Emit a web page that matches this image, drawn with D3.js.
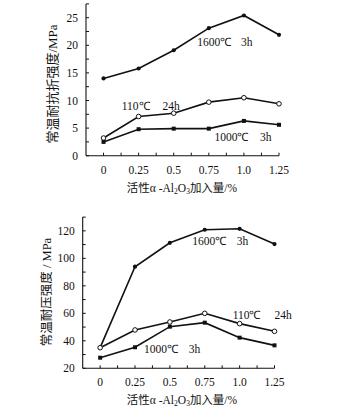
<!DOCTYPE html>
<html><head><meta charset="utf-8">
<script src="https://cdn.jsdelivr.net/npm/d3@7"></script>
<style>
body{margin:0;background:#fff;}
svg{display:block;}
text{fill:#111;}
</style></head>
<body><svg id="c" width="349" height="411"></svg>
<script>
const xValues = [0, 0.25, 0.5, 0.75, 1.0, 1.25];
const xTickLabels = ["0", "0.25", "0.5", "0.75", "1.0", "1.25"];

// Top chart: flexural strength (MPa)
const flex1600 = [14.0, 15.8, 19.1, 23.1, 25.4, 21.9];
const flex110  = [3.2, 7.1, 7.7, 9.7, 10.5, 9.4];
const flex1000 = [2.5, 4.8, 4.9, 4.9, 6.3, 5.6];
const flexTicks = [0, 5, 10, 15, 20, 25];

// Bottom chart: compressive strength (MPa)
const comp1600 = [35, 93.9, 111.3, 120.8, 121.5, 110.4];
const comp110  = [35, 47.9, 53.7, 60, 52.5, 46.9];
const comp1000 = [27.7, 35.3, 50.3, 53.2, 42.3, 36.7];
const compTicks = [20, 40, 60, 80, 100, 120];

const serif = "'Liberation Serif','Times New Roman',serif";
const cjk = "'Liberation Serif','Noto Sans CJK SC',serif";
const svg = d3.select("#c");

function panel(o){
  const g = svg.append("g");
  const x = d3.scaleLinear().domain([-0.125, 1.25]).range([o.left, o.right]);
  const y = d3.scaleLinear().domain(o.yDomain).range([o.bottom, o.top]);
  g.append("line").attr("x1", x(-0.125)).attr("x2", x(-0.125)).attr("y1", y(o.yDomain[0])).attr("y2", y(o.yDomain[1]))
    .attr("stroke","#111").attr("stroke-width",1.1);
  g.append("line").attr("x1", x(-0.125)).attr("x2", x(1.25)).attr("y1", y(o.yDomain[0])).attr("y2", y(o.yDomain[0]))
    .attr("stroke","#111").attr("stroke-width",1.1);
  d3.range(o.yDomain[0], o.yDomain[1] + 1e-9, o.yMinor).forEach(v=>{
    g.append("line").attr("x1", x(-0.125)).attr("x2", x(-0.125)+3).attr("y1", y(v)).attr("y2", y(v))
      .attr("stroke","#111").attr("stroke-width",1);
  });
  d3.range(0, 1.25 + 1e-9, 0.125).forEach(v=>{
    g.append("line").attr("x1", x(v)).attr("x2", x(v)).attr("y1", y(o.yDomain[0])).attr("y2", y(o.yDomain[0])-3)
      .attr("stroke","#111").attr("stroke-width",1);
  });
  o.yTicks.forEach(v=>{
    g.append("text").attr("x", x(-0.125)-8).attr("y", y(v)).attr("dy","0.35em").attr("text-anchor","end")
      .attr("font-family", serif).attr("font-size", 11.5).text(v);
  });
  xValues.forEach((v,i)=>{
    g.append("text").attr("x", x(v)).attr("y", y(o.yDomain[0]) + 18).attr("text-anchor","middle")
      .attr("font-family", serif).attr("font-size", 11.5).text(xTickLabels[i]);
  });
  const xt = g.append("text").attr("x", o.xTitleX).attr("y", y(o.yDomain[0]) + 36).attr("text-anchor","middle")
    .attr("font-family", cjk).attr("font-size", 11.5);
  xt.append("tspan").text("活性α -Al");
  xt.append("tspan").attr("font-size", 7.5).attr("dy", 2).text("2");
  xt.append("tspan").attr("dy", -2).text("O");
  xt.append("tspan").attr("font-size", 7.5).attr("dy", 2).text("3");
  xt.append("tspan").attr("dy", -2).text("加入量/%");
  g.append("text").attr("transform", `translate(${o.yTitleX},${o.yTitleY}) rotate(-90)`)
    .attr("text-anchor","middle").attr("font-family", cjk).attr("font-size", o.yTitleSize).text(o.yTitle);

  const line = d3.line().x((d,i)=>x(xValues[i])).y(d=>y(d));
  o.series.forEach(s=>{
    g.append("path").attr("d", line(s.values)).attr("fill","none").attr("stroke","#111").attr("stroke-width",1.6);
  });
  o.series.forEach(s=>{
    s.values.forEach((v,i)=>{
      if (s.marker === "open") {
        g.append("circle").attr("cx", x(xValues[i])).attr("cy", y(v)).attr("r", 2.3)
          .attr("fill","#fff").attr("stroke","#111").attr("stroke-width",1);
      } else if (s.marker === "square") {
        g.append("rect").attr("x", x(xValues[i])-2).attr("y", y(v)-2).attr("width",4).attr("height",4).attr("fill","#111");
      } else {
        g.append("circle").attr("cx", x(xValues[i])).attr("cy", y(v)).attr("r", 2.1).attr("fill","#111");
      }
    });
  });
  o.labels.forEach(l=>{
    const t = g.append("text").attr("font-family", serif).attr("font-size", 11.5);
    t.append("tspan").attr("x", x(l.x1)).attr("y", y(l.y)).text(l.a);
    t.append("tspan").attr("x", x(l.x2)).attr("y", y(l.y)).text(l.b);
  });
}

panel({
  left: 86, right: 279, top: 3.9, bottom: 155.7,
  yDomain: [0, 27.5], yMinor: 2.5, yTicks: flexTicks,
  xTitleX: 182, yTitleX: 57, yTitleY: 84, yTitleSize: 13,
  yTitle: "常温耐抗折强度/MPa",
  series: [
    {values: flex1600, marker: "filled"},
    {values: flex110, marker: "open"},
    {values: flex1000, marker: "square"}
  ],
  labels: [
    {a:"1600℃", b:"3h", x1:0.668, x2:0.98, y:19.8},
    {a:"110℃", b:"24h", x1:0.13, x2:0.42, y:8.3},
    {a:"1000℃", b:"3h", x1:0.79, x2:1.115, y:2.7}
  ]
});

panel({
  left: 82.7, right: 274.5, top: 217.1, bottom: 368.3,
  yDomain: [20, 130], yMinor: 10, yTicks: compTicks,
  xTitleX: 182, yTitleX: 51, yTitleY: 292, yTitleSize: 12.5,
  yTitle: "常温耐压强度 / MPa",
  series: [
    {values: comp1600, marker: "filled"},
    {values: comp110, marker: "open"},
    {values: comp1000, marker: "square"}
  ],
  labels: [
    {a:"1600℃", b:"3h", x1:0.66, x2:0.98, y:110},
    {a:"110℃", b:"24h", x1:0.95, x2:1.25, y:56},
    {a:"1000℃", b:"3h", x1:0.315, x2:0.635, y:31}
  ]
});
</script></body></html>
